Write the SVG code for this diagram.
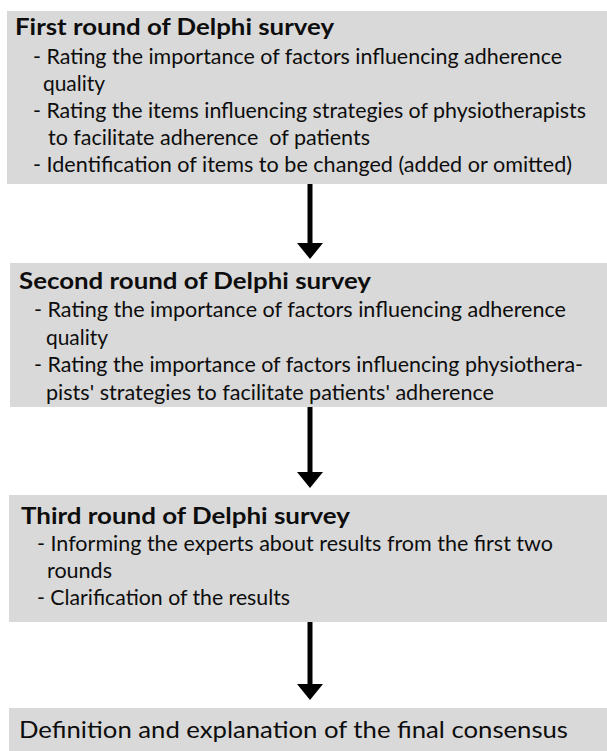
<svg xmlns="http://www.w3.org/2000/svg" width="607" height="751" viewBox="0 0 607 751">
<style>
.box{fill:#d9d9d9;}
.t{font-family:Lato,"Open Sans","Liberation Sans",sans-serif;fill:#0d0d0d;}
.h{font-size:23px;font-weight:bold;}
.b{font-size:21px;}
.f{font-size:23px;}
.c{stroke:#000;stroke-width:5;fill:none;}
</style>
<defs>
<marker id="ah" markerUnits="userSpaceOnUse" viewBox="0 0 16 26" refX="1" refY="13" markerWidth="16" markerHeight="26" orient="auto">
<path d="M0,0 L16,13 L0,26 z" fill="#000"/>
</marker>
</defs>
<rect width="607" height="751" fill="#fff"/>
<g id="round1">
<rect class="box" x="7" y="11" width="600" height="173"/>
<text class="t h" x="15" y="35" textLength="319" lengthAdjust="spacingAndGlyphs">First round of Delphi survey</text>
<text class="t b" x="33" y="64" textLength="529" lengthAdjust="spacingAndGlyphs">- Rating the importance of factors influencing adherence</text>
<text class="t b" x="43" y="91" textLength="62" lengthAdjust="spacingAndGlyphs">quality</text>
<text class="t b" x="33" y="118" textLength="553" lengthAdjust="spacingAndGlyphs">- Rating the items influencing strategies of physiotherapists</text>
<text class="t b" x="48" y="145" textLength="322" lengthAdjust="spacingAndGlyphs" xml:space="preserve">to facilitate adherence  of patients</text>
<text class="t b" x="33" y="172" textLength="539" lengthAdjust="spacingAndGlyphs">- Identification of items to be changed (added or omitted)</text>
</g>
<g id="round2">
<rect class="box" x="10" y="263" width="597" height="144"/>
<text class="t h" x="19" y="289" textLength="352" lengthAdjust="spacingAndGlyphs">Second round of Delphi survey</text>
<text class="t b" x="34" y="317" textLength="532" lengthAdjust="spacingAndGlyphs">- Rating the importance of factors influencing adherence</text>
<text class="t b" x="46" y="345" textLength="62" lengthAdjust="spacingAndGlyphs">quality</text>
<text class="t b" x="34" y="372" textLength="549" lengthAdjust="spacingAndGlyphs">- Rating the importance of factors influencing physiothera-</text>
<text class="t b" x="46" y="400" textLength="448" lengthAdjust="spacingAndGlyphs">pists' strategies to facilitate patients' adherence</text>
</g>
<g id="round3">
<rect class="box" x="9" y="495" width="598" height="127"/>
<text class="t h" x="21" y="524" textLength="329" lengthAdjust="spacingAndGlyphs">Third round of Delphi survey</text>
<text class="t b" x="37" y="551" textLength="516" lengthAdjust="spacingAndGlyphs">- Informing the experts about results from the first two</text>
<text class="t b" x="47" y="578" textLength="65" lengthAdjust="spacingAndGlyphs">rounds</text>
<text class="t b" x="37" y="605" textLength="253" lengthAdjust="spacingAndGlyphs">- Clarification of the results</text>
</g>
<g id="consensus">
<rect class="box" x="9" y="708" width="598" height="43"/>
<text class="t f" x="19" y="738" textLength="549" lengthAdjust="spacingAndGlyphs">Definition and explanation of the final consensus</text>
</g>
<g id="connectors">
<line class="c" x1="310" y1="184" x2="310" y2="244" marker-end="url(#ah)"/>
<line class="c" x1="310" y1="407" x2="310" y2="473" marker-end="url(#ah)"/>
<line class="c" x1="310" y1="622" x2="310" y2="685" marker-end="url(#ah)"/>
</g>
</svg>
